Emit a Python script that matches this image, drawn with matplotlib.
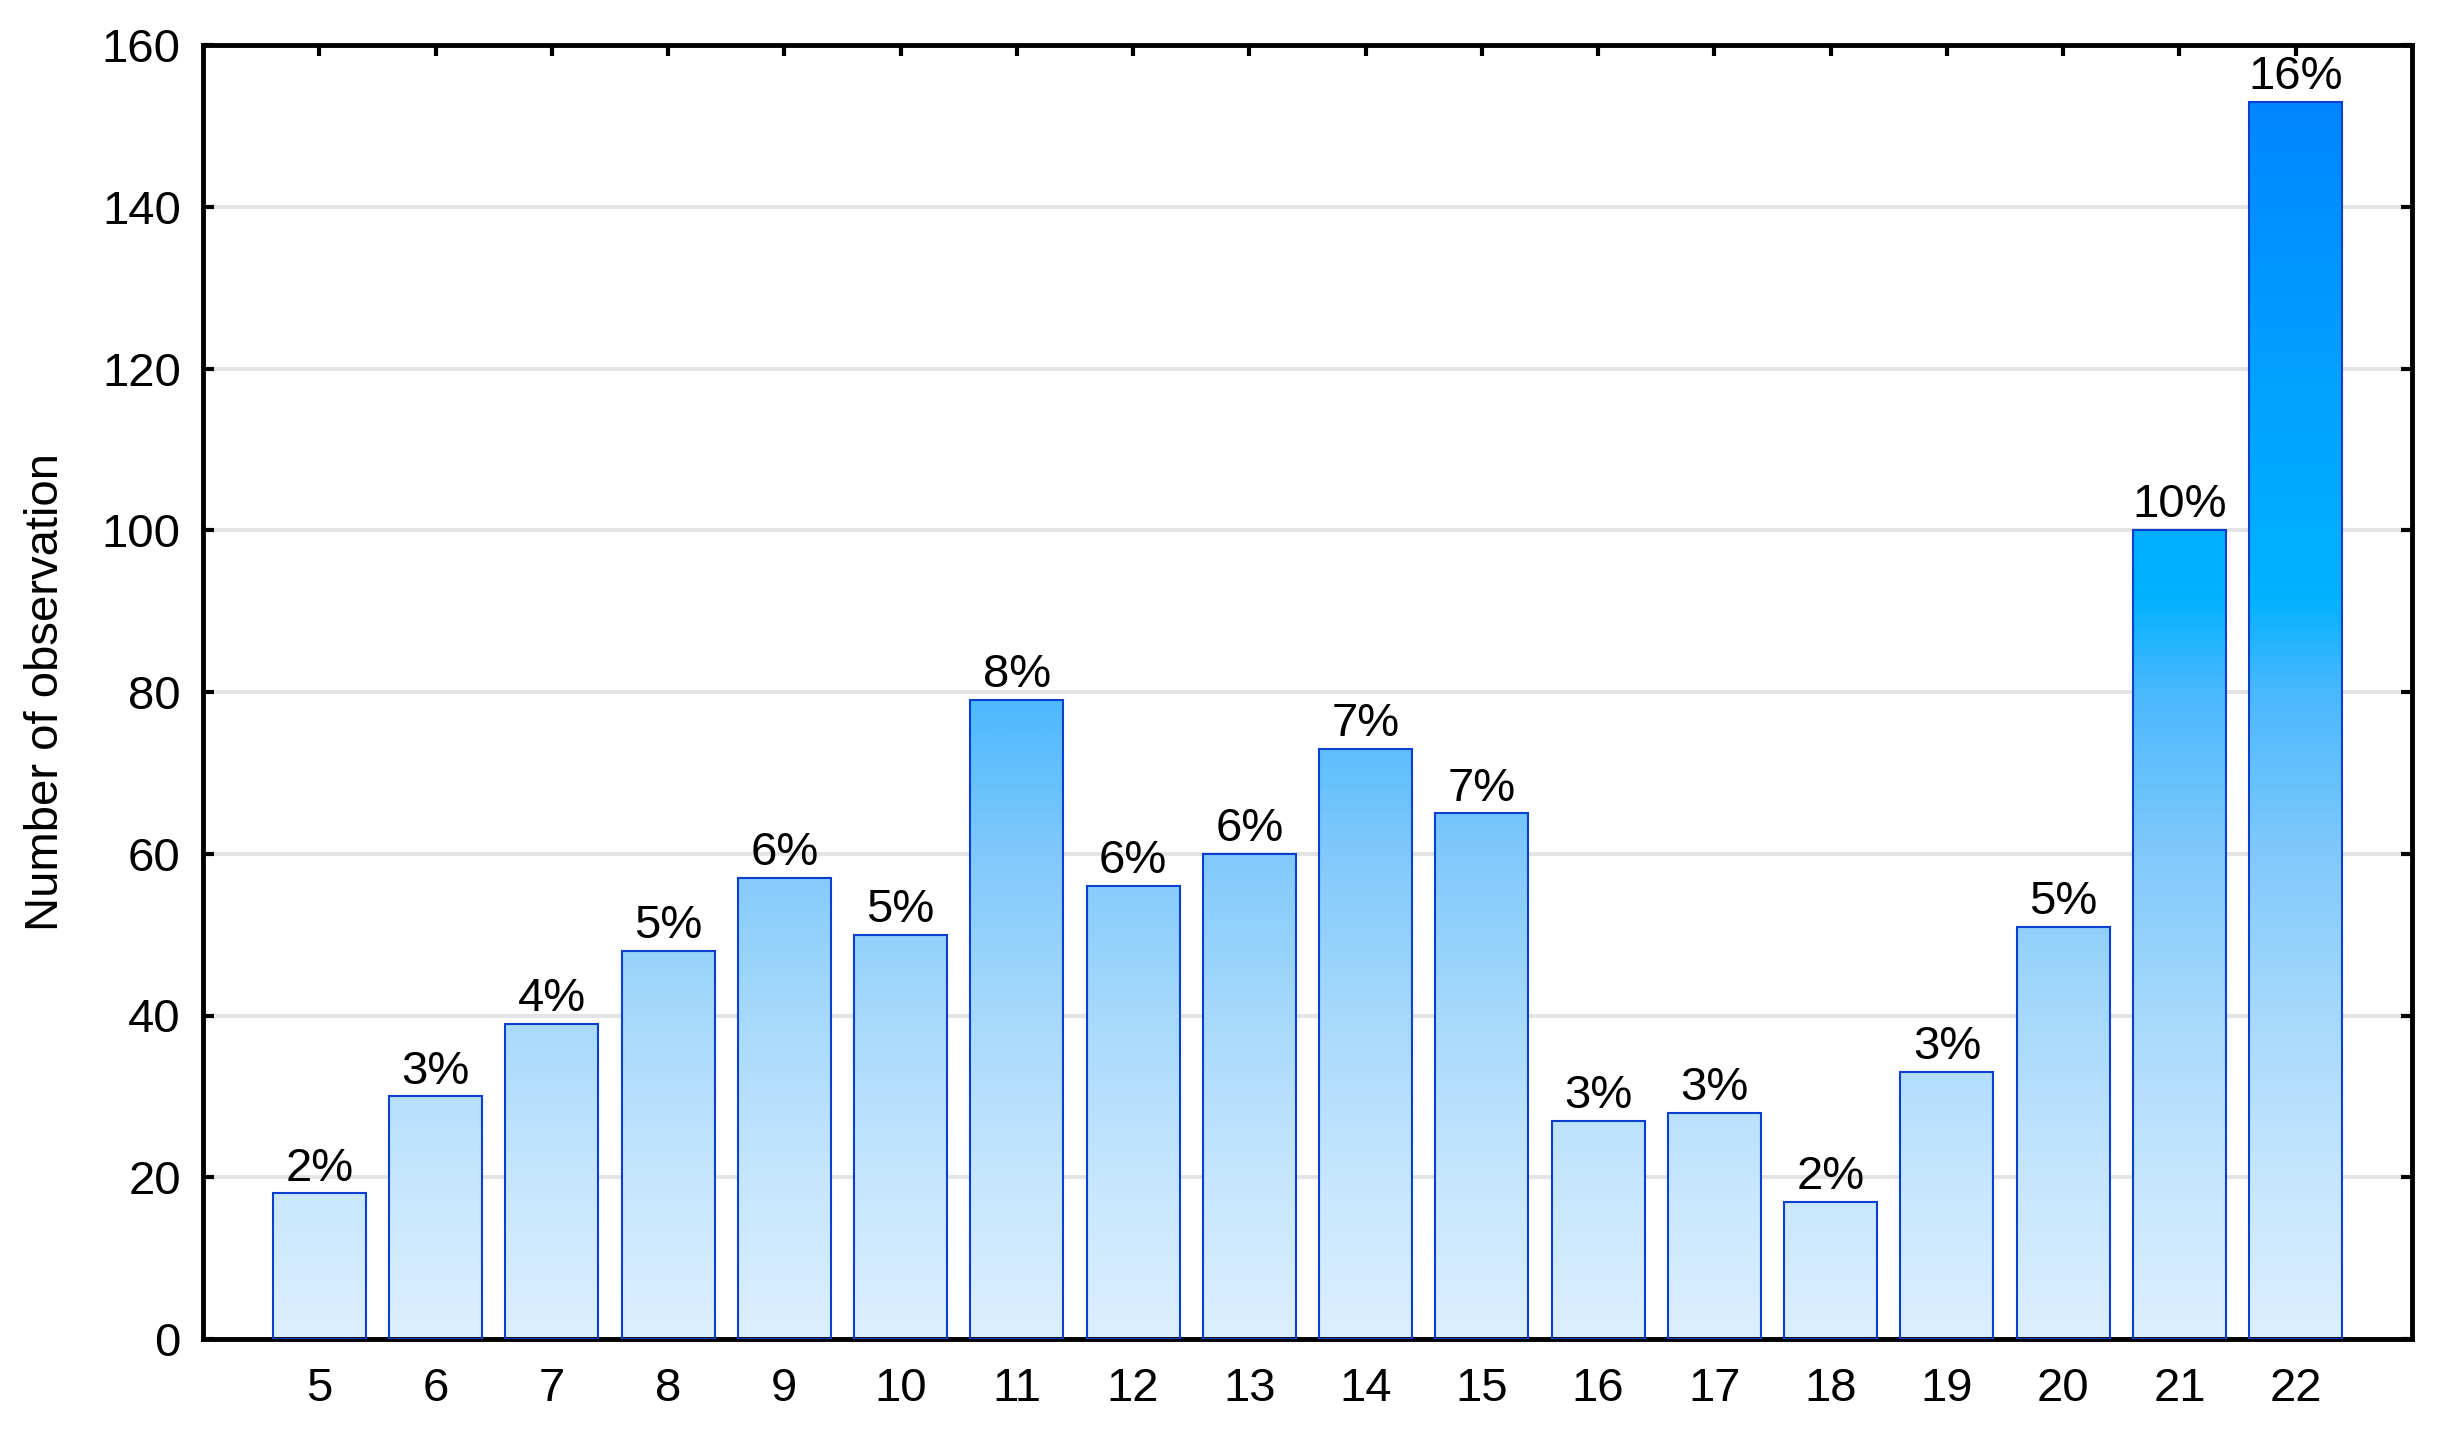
import numpy as np
import matplotlib
matplotlib.use("Agg")
import matplotlib.pyplot as plt
from matplotlib.colors import LinearSegmentedColormap

plt.rcParams['font.family'] = ['Liberation Sans', 'DejaVu Sans']

# données
categories = [5, 6, 7, 8, 9, 10, 11, 12, 13, 14, 15, 16, 17, 18, 19, 20, 21, 22]
counts = [18, 30, 39, 48, 57, 50, 79, 56, 60, 73, 65, 27, 28, 17, 33, 51, 100, 153]
percents = [2, 3, 4, 5, 6, 5, 8, 6, 6, 7, 7, 3, 3, 2, 3, 5, 10, 16]
yticks = [0, 20, 40, 60, 80, 100, 120, 140, 160]

# dégradé vertical (selon la valeur en y)
ymax = 160
grad = LinearSegmentedColormap.from_list("bleu", [
    (0.0, "#dcefff"),
    (20 / ymax, "#c6e6fd"),
    (40 / ymax, "#a6d9fc"),
    (60 / ymax, "#80c9fb"),
    (80 / ymax, "#4ab8fe"),
    (92 / ymax, "#00b2ff"),
    (120 / ymax, "#00a0ff"),
    (1.0, "#0080ff"),
])

fig = plt.figure(figsize=(24.43, 14.32), dpi=100)
ax = fig.add_axes([203 / 2443, 1 - 1339 / 1432, (2412 - 203) / 2443, (1339 - 45) / 1432])

xlim = (4, 23)
ax.set_xlim(*xlim)
ax.set_ylim(0, ymax)

bars = ax.bar(categories, counts, width=0.8, color="none", edgecolor="#0a3fd0",
              linewidth=1.5, zorder=3)

img = np.linspace(0, 1, 512).reshape(-1, 1)
for b in bars:
    im = ax.imshow(img, cmap=grad, origin="lower", aspect="auto",
                   extent=[xlim[0], xlim[1], 0, ymax], zorder=2, interpolation="bilinear")
    im.set_clip_path(b)

for x, c, p in zip(categories, counts, percents):
    ax.annotate(f"{p}%", (x, c), xytext=(0, 2), textcoords="offset points",
                ha="center", va="bottom", fontsize=34, zorder=4)

ax.set_xticks(categories)
ax.set_yticks(yticks)
ax.yaxis.grid(True, color="#e4e4e4", linewidth=2.8, zorder=1)
ax.set_axisbelow(True)

ax.tick_params(direction="in", length=8, width=3, labelsize=34,
               top=True, right=True)
ax.tick_params(axis="x", pad=20)
ax.tick_params(axis="y", pad=16)
for s in ax.spines.values():
    s.set_linewidth(3.5)

ax.set_ylabel("Number of observation", fontsize=34, labelpad=24)

fig.savefig("out.png", dpi=100)
